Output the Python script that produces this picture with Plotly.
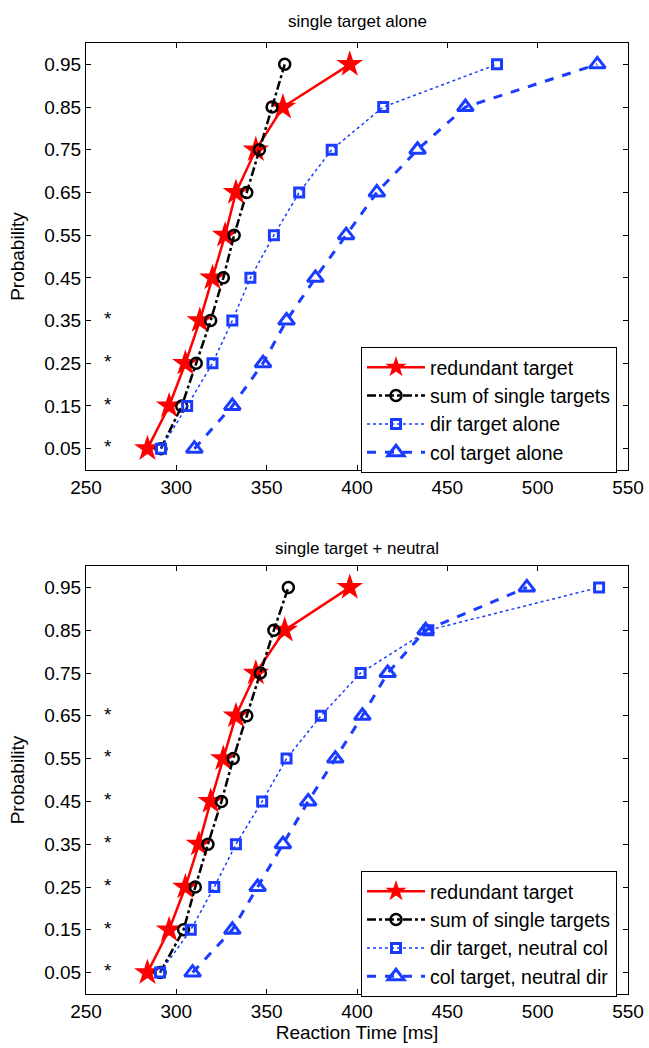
import plotly.graph_objects as go

prob = [0.05, 0.15, 0.25, 0.35, 0.45, 0.55, 0.65, 0.75, 0.85, 0.95]

# top panel: single target alone
top_redundant = [284, 296, 305, 313, 320, 327, 333, 344, 359, 396]
top_sum = [291.5, 303, 311, 319, 326, 332, 339, 346, 353, 360]
top_dir = [291.5, 306, 320, 331, 341, 354, 368, 386, 414.5, 477.5]
top_col = [310, 331, 348, 361, 377, 394, 411, 433.5, 460, 533]
top_sig_prob = [0.05, 0.15, 0.25, 0.35]

# bottom panel: single target + neutral
bot_redundant = [284, 296, 305, 312.5, 319, 326, 333, 344, 360, 396]
bot_sum = [291, 304, 310.5, 317.5, 325, 331.5, 339, 346.5, 354, 362]
bot_dir = [291, 308, 321, 333, 347.5, 361, 380, 402, 439.5, 534]
bot_col = [309, 331, 345, 359, 373, 388, 403, 417, 438, 494]
bot_sig_prob = [0.05, 0.15, 0.25, 0.35, 0.45, 0.55, 0.65]
sig_x = 262

top_names = ["redundant target", "sum of single targets", "dir target alone", "col target alone"]
bot_names = ["redundant target", "sum of single targets", "dir target, neutral col", "col target, neutral dir"]

x_ticks = [250, 300, 350, 400, 450, 500, 550]
titles = ["single target alone", "single target + neutral"]

RED = "#ff0000"
BLUE = "#1a3cff"
FONT = "Liberation Sans, Arial, Helvetica, sans-serif"

fig = go.Figure()

def add_panel(xa, ya, leg, names, red, summ, dirr, col, sig):
    fig.add_trace(go.Scatter(x=red, y=prob, name=names[0], mode="lines+markers",
                             line=dict(color=RED, width=2.5),
                             marker=dict(symbol="star", size=20, color=RED),
                             xaxis=xa, yaxis=ya, legend=leg))
    fig.add_trace(go.Scatter(x=summ, y=prob, name=names[1], mode="lines+markers",
                             line=dict(color="black", width=2.5, dash="dashdot"),
                             marker=dict(symbol="circle-open", size=11, color="black",
                                         line=dict(width=2.5, color="black")),
                             xaxis=xa, yaxis=ya, legend=leg))
    fig.add_trace(go.Scatter(x=dirr, y=prob, name=names[2], mode="lines+markers",
                             line=dict(color=BLUE, width=1.5, dash="dot"),
                             marker=dict(symbol="square-open", size=9, color=BLUE,
                                         line=dict(width=3, color=BLUE)),
                             xaxis=xa, yaxis=ya, legend=leg))
    fig.add_trace(go.Scatter(x=col, y=prob, name=names[3], mode="lines+markers",
                             line=dict(color=BLUE, width=3, dash="dash"),
                             marker=dict(symbol="triangle-up-open", size=14, color=BLUE,
                                         line=dict(width=3, color=BLUE)),
                             xaxis=xa, yaxis=ya, legend=leg))
    fig.add_trace(go.Scatter(x=[sig_x] * len(sig), y=sig, mode="text",
                             text=["*"] * len(sig), textposition="middle center",
                             textfont=dict(size=19, color="black", family=FONT),
                             showlegend=False, hoverinfo="skip",
                             xaxis=xa, yaxis=ya))

add_panel("x", "y", "legend", top_names, top_redundant, top_sum, top_dir, top_col, top_sig_prob)
add_panel("x2", "y2", "legend2", bot_names, bot_redundant, bot_sum, bot_dir, bot_col, bot_sig_prob)

W, H = 649, 1048
xdom = [86 / W, 628 / W]
top_dom = [1 - 470 / H, 1 - 43 / H]
bot_dom = [1 - 994 / H, 1 - 566 / H]

axis_common = dict(range=[250, 550], tickvals=x_ticks, ticks="inside", ticklen=5,
                   tickcolor="black", showline=True, linecolor="black", linewidth=1,
                   mirror="ticks", showgrid=False, zeroline=False, automargin=False,
                   tickfont=dict(size=19, color="black", family=FONT))
yaxis_common = dict(range=[0, 1], tickvals=prob, ticktext=[f"{p:.2f}" for p in prob],
                    ticks="inside", ticklen=5, tickcolor="black", showline=True,
                    linecolor="black", linewidth=1, mirror="ticks", showgrid=False,
                    zeroline=False, automargin=False,
                    tickfont=dict(size=19, color="black", family=FONT))

legend_common = dict(xanchor="right", yanchor="top", bgcolor="white",
                     bordercolor="black", borderwidth=1, itemwidth=58,
                     font=dict(size=19.5, color="black", family=FONT),
                     tracegroupgap=0)

fig.update_layout(
    width=W, height=H,
    margin=dict(l=0, r=0, t=0, b=0, autoexpand=False),
    plot_bgcolor="white", paper_bgcolor="white",
    font=dict(family=FONT, color="black"),
    xaxis=dict(domain=xdom, anchor="y", **axis_common),
    yaxis=dict(domain=top_dom, anchor="x",
               title=dict(text="Probability", font=dict(size=19), standoff=14), **yaxis_common),
    xaxis2=dict(domain=xdom, anchor="y2",
                title=dict(text="Reaction Time [ms]", font=dict(size=19), standoff=2), **axis_common),
    yaxis2=dict(domain=bot_dom, anchor="x2",
                title=dict(text="Probability", font=dict(size=19), standoff=14), **yaxis_common),
    legend=dict(x=617 / W, y=1 - 347 / H, **legend_common),
    legend2=dict(x=617 / W, y=1 - 871 / H, **legend_common),
    showlegend=True,
    annotations=[
        dict(text=titles[0], x=(xdom[0] + xdom[1]) / 2, y=1 - 22 / H, xref="paper", yref="paper",
             showarrow=False, font=dict(size=17, color="black", family=FONT),
             xanchor="center", yanchor="middle"),
        dict(text=titles[1], x=(xdom[0] + xdom[1]) / 2, y=1 - 548 / H, xref="paper", yref="paper",
             showarrow=False, font=dict(size=17, color="black", family=FONT),
             xanchor="center", yanchor="middle"),
    ],
)

fig.write_html("out.html", config={"displayModeBar": False},
               post_script="document.body.style.margin='0';document.body.style.overflow='hidden';")
